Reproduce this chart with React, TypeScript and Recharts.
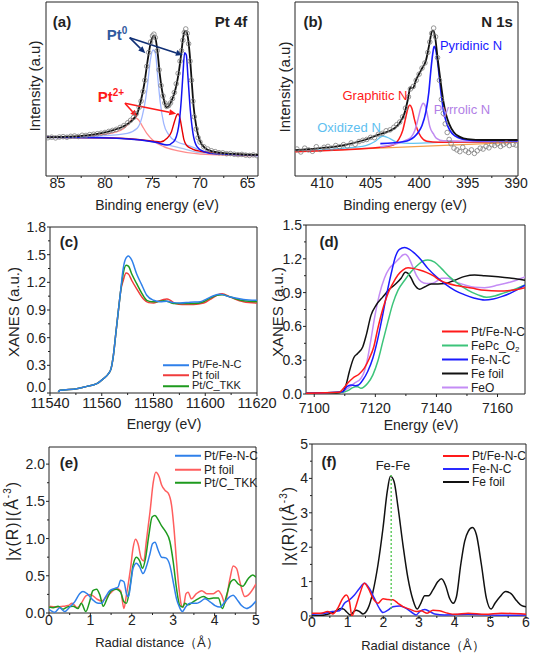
import React from 'react'
import { LineChart, Line, XAxis, YAxis, ReferenceArea, ReferenceLine } from 'recharts'

const W = 538
const H = 660
const FONT = '"Liberation Sans", Arial, Helvetica, sans-serif'
const INK = '#222'
const XH = 30
const YW = 40

// ---------- (a) Pt 4f XPS ----------
const aTicks = [65, 67.5, 70, 72.5, 75, 77.5, 80, 82.5, 85]
const aMajor = [65, 70, 75, 80, 85]
const aPoints = [
  [86.0, 22.0], [85.6, 22.3], [85.2, 21.9], [84.8, 22.4], [84.4, 22.6], [84.0, 22.3], [83.6, 22.8], [83.2, 23.0],
  [82.8, 22.7], [82.4, 23.4], [82.0, 23.3], [81.6, 23.8], [81.2, 24.0], [80.8, 24.3], [80.4, 24.6], [80.0, 25.0],
  [79.6, 25.6], [79.2, 26.2], [78.8, 26.8], [78.4, 27.9], [78.0, 29.0], [77.6, 30.6], [77.3, 32.0], [77.0, 33.6],
  [76.7, 35.8], [76.4, 39.5], [76.2, 43.0], [76.0, 48.5], [75.8, 55], [75.6, 63], [75.4, 71], [75.2, 77],
  [75.0, 80.5], [74.85, 81.5], [74.7, 79.5], [74.5, 72], [74.3, 61], [74.1, 52], [73.9, 46], [73.7, 42],
  [73.5, 40], [73.3, 40.5], [73.1, 42], [72.9, 44.5], [72.7, 48], [72.5, 53], [72.3, 59], [72.1, 66],
  [71.95, 72], [71.8, 78], [71.65, 82.5], [71.5, 84.5], [71.35, 82], [71.2, 76], [71.05, 66], [70.9, 55],
  [70.75, 43], [70.6, 34], [70.4, 27], [70.2, 22], [70.0, 19.5], [69.6, 16.8], [69.2, 15.5], [68.8, 14.5],
  [68.4, 14.0], [68.0, 13.4], [67.6, 13.3], [67.2, 12.8], [66.8, 12.9], [66.4, 12.5], [66.0, 12.3], [65.6, 12.4],
  [65.2, 12.0], [64.8, 11.8], [64.4, 12.1], [64.0, 11.7],
]
const aFit = [
  [86.1, 22.2], [84.0, 22.6], [81.9, 23.4], [80.5, 24.5], [79.1, 26.4], [78.0, 28.7], [77.1, 32.2], [76.6, 36.0],
  [76.2, 43.7], [75.85, 53.3], [75.5, 66.7], [75.2, 76.2], [75.0, 79.7], [74.83, 80.5], [74.66, 78.5], [74.45, 70.5],
  [74.24, 59], [74.0, 49.4], [73.75, 42.7], [73.54, 39.5], [73.3, 40.2], [72.95, 43.7], [72.6, 49.4], [72.25, 59],
  [71.97, 70.5], [71.76, 80], [71.6, 83.2], [71.45, 83.3], [71.27, 79.5], [71.09, 70.5], [70.88, 55], [70.67, 39.8],
  [70.39, 28.4], [70.05, 20.7], [69.45, 15.9], [68.58, 14], [67.18, 13], [65.78, 12.5], [63.9, 12.1],
]
const aPt0a = [
  [86.1, 22.2], [80.46, 23.0], [77.66, 24.5], [76.61, 27.4], [76.09, 34.1], [75.74, 43.7], [75.5, 53.3], [75.22, 66.7],
  [74.94, 72.4], [74.69, 70.5], [74.45, 57.1], [74.17, 41.8], [73.82, 30.3], [73.29, 23.6], [72.42, 19.7], [71.37, 17.8],
  [69.97, 14.9], [68.23, 13.0], [63.9, 11.5],
]
const aPt0b = [
  [86.1, 22.2], [80.46, 22.0], [76.26, 20.7], [74.52, 19.2], [73.47, 17.8], [72.77, 19.7], [72.25, 28.4], [71.97, 43.7],
  [71.79, 59.0], [71.62, 70.9], [71.44, 69.5], [71.27, 57.1], [71.02, 37.9], [70.74, 24.5], [70.32, 16.9], [69.62, 14.0],
  [68.23, 12.6], [63.9, 12.1],
]
const aPt2a = [
  [86.1, 22.2], [80.46, 23.6], [78.36, 26.2], [77.6, 29.5], [77.2, 32.5], [76.9, 33.6], [76.5, 32.5], [76.1, 29],
  [75.6, 24.5], [74.9, 20.3], [73.82, 16.9], [72.42, 14.6], [69.97, 12.6], [63.9, 11.5],
]
const aPt2b = [
  [86.1, 22.2], [80.46, 22.0], [76.61, 21.0], [74.9, 20.0], [74.17, 19.5], [73.5, 21.5], [73.0, 25.5], [72.7, 31],
  [72.45, 35], [72.3, 35.6], [72.1, 33], [71.9, 27], [71.7, 21], [71.4, 17.5], [70.8, 15.5], [69.97, 14.2],
  [67.5, 12.8], [63.9, 12.1],
]
const aBase = [
  [86.1, 22.0], [77.0, 21.4], [74.5, 19.0], [73.0, 17.3], [71.5, 15.3], [70.0, 13.4], [63.9, 11.6],
]

// ---------- (b) N 1s XPS ----------
const bTicks = [390, 392.5, 395, 397.5, 400, 402.5, 405, 407.5, 410]
const bMajor = [390, 395, 400, 405, 410]
const bPoints = [
  [412.6, 15.5], [412.2, 13.8], [411.8, 16.0], [411.4, 15.0], [411.0, 14.2], [410.6, 16.8], [410.2, 15.2], [409.8, 16.5],
  [409.4, 17.0], [409.0, 16.0], [408.6, 17.5], [408.2, 16.8], [407.8, 18.0], [407.4, 17.2], [407.0, 19.0], [406.6, 18.2],
  [406.2, 19.8], [405.8, 20.5], [405.4, 21.0], [405.0, 22.2], [404.6, 22.0], [404.2, 24.0], [403.8, 24.5], [403.4, 26.0],
  [403.0, 26.5], [402.6, 28.0], [402.3, 29.5], [402.0, 31.0], [401.7, 34.0], [401.4, 39.0], [401.1, 45.5], [400.9, 50.0],
  [400.6, 51.5], [400.3, 55.0], [400.0, 58.5], [399.7, 62.0], [399.4, 65.0], [399.1, 71.0], [398.9, 77.0], [398.7, 82.0],
  [398.5, 85.0], [398.3, 80.0], [398.1, 68.0], [397.9, 55.0], [397.7, 44.0], [397.5, 36.0], [397.3, 30.0], [397.1, 25.0],
  [396.9, 21.0], [396.7, 18.5], [396.4, 16.0], [396.1, 15.0], [395.8, 14.0], [395.5, 16.5], [395.2, 14.5], [394.9, 13.5],
  [394.6, 15.0], [394.3, 13.0], [394.0, 14.5], [393.7, 16.0], [393.4, 15.5], [393.1, 17.0], [392.8, 16.2], [392.5, 18.0],
  [392.2, 17.5], [391.9, 18.5], [391.6, 17.0], [391.3, 18.0], [391.0, 19.0], [390.7, 17.5], [390.3, 18.2], [390.0, 17.8],
]
const bFit = [
  [412.78, 14.9], [410.45, 15.9], [407.7, 17.8], [405.64, 20.7], [404.26, 23.6], [403.23, 25.5], [402.54, 27.4],
  [402.03, 30.3], [401.51, 36.0], [401.17, 43.7], [400.89, 51.0], [400.65, 50.4], [400.31, 55.2], [399.79, 60.9],
  [399.28, 66.7], [398.93, 76.2], [398.69, 82.9], [398.52, 83.5], [398.35, 80], [398.1, 68], [397.8, 55], [397.5, 43],
  [397.2, 35], [396.9, 30], [396.4, 25], [395.8, 22.5], [395.0, 21.2], [393.3, 20.7], [389.83, 20.7],
]
const bPyridinic = [
  [404.0, 18.6], [401.5, 19.8], [401.0, 20.7], [400.5, 22.5], [400.1, 25], [399.7, 29], [399.3, 37], [399.0, 48],
  [398.8, 60], [398.6, 70], [398.45, 74.5], [398.3, 73], [398.1, 66], [397.9, 56], [397.7, 46], [397.5, 38],
  [397.2, 31], [396.8, 26], [396.3, 23], [395.5, 21.2], [394.5, 20.5], [392.7, 20.3], [389.83, 20.2],
]
const bGraphitic = [
  [412.78, 14], [404.0, 16.5], [402.6, 18], [402.1, 21], [401.7, 26], [401.4, 33], [401.15, 39], [400.96, 40.8],
  [400.75, 39], [400.5, 33], [400.2, 27], [399.8, 22.5], [399.2, 20], [398.0, 19.4], [389.83, 19.8],
]
const bPyrrolic = [
  [404.0, 16.8], [401.3, 20.7], [400.8, 22.5], [400.45, 26], [400.1, 33], [399.8, 39.5], [399.59, 41.8], [399.35, 40],
  [399.1, 34], [398.9, 28.5], [398.5, 24], [398.2, 21.6], [397.5, 20.2], [395.0, 20], [389.83, 20],
]
const bOxidized = [
  [412.78, 14], [408.0, 15.8], [405.5, 17.5], [404.5, 20], [403.75, 23], [403.0, 21.5], [402.2, 19.2], [401.0, 18.8],
  [398.0, 19.3], [389.83, 19.8],
]
const bBase = [[412.78, 14.0], [389.83, 19.4]]

// ---------- (c) Pt L3-edge XANES ----------
const cTicks = [11540, 11550, 11560, 11570, 11580, 11590, 11600, 11610, 11620]
const cMajor = [11540, 11560, 11580, 11600, 11620]
const cYTicks = [0, 0.15, 0.3, 0.45, 0.6, 0.75, 0.9, 1.05, 1.2, 1.35, 1.5, 1.65, 1.8]
const cYMajor = [0, 0.3, 0.6, 0.9, 1.2, 1.5, 1.8]
const cPtFeNC = [
  [11543.2, 0.011], [11543.9, 0.029], [11550.3, 0.047], [11554.2, 0.072], [11558.1, 0.101], [11560.6, 0.155],
  [11562.6, 0.21], [11563.6, 0.264], [11564.5, 0.408], [11565.5, 0.661], [11566.5, 0.914], [11567.4, 1.131],
  [11568.1, 1.31], [11569.0, 1.44], [11570.3, 1.485], [11571.6, 1.44], [11573.5, 1.29], [11575.5, 1.17],
  [11577.4, 1.06], [11580, 1.005], [11582.6, 0.99], [11585.2, 0.995], [11587.7, 0.98], [11590.3, 0.975],
  [11594.2, 0.985], [11598.1, 0.99], [11600.6, 1.02], [11603.2, 1.055], [11605.8, 1.07], [11609.7, 1.04],
  [11614.8, 1.015], [11620, 1.005],
]
const cPtFoil = [
  [11543.2, 0.011], [11543.9, 0.029], [11550.3, 0.047], [11554.2, 0.072], [11558.1, 0.101], [11560.6, 0.155],
  [11562.6, 0.21], [11563.6, 0.264], [11564.5, 0.408], [11565.5, 0.661], [11566.5, 0.91], [11567.4, 1.12],
  [11568.3, 1.22], [11569.4, 1.3], [11570.3, 1.29], [11571.6, 1.22], [11573.5, 1.13], [11576.1, 1.02],
  [11578.1, 0.98], [11580, 0.975], [11581.9, 0.995], [11583.9, 1.015], [11585.2, 1.02], [11586.5, 1.005],
  [11588.4, 0.97], [11591, 0.96], [11595.5, 0.96], [11599.4, 0.975], [11601.9, 1.015], [11604.5, 1.06],
  [11606.5, 1.075], [11609.7, 1.04], [11614.8, 0.99], [11620, 0.975],
]
const cPtCTKK = [
  [11543.2, 0.011], [11543.9, 0.029], [11550.3, 0.047], [11554.2, 0.072], [11558.1, 0.101], [11560.6, 0.155],
  [11562.6, 0.21], [11563.6, 0.264], [11564.5, 0.408], [11565.5, 0.661], [11566.5, 0.912], [11567.4, 1.125],
  [11568.2, 1.28], [11569.4, 1.385], [11570.3, 1.375], [11571.6, 1.29], [11573.5, 1.185], [11575.5, 1.08],
  [11577.4, 1.005], [11579.4, 0.99], [11581.3, 0.99], [11583.9, 1.0], [11585.8, 0.99], [11587.7, 0.97],
  [11590.3, 0.97], [11595.5, 0.97], [11599.4, 0.99], [11601.9, 1.03], [11604.5, 1.06], [11606.5, 1.065],
  [11609.7, 1.04], [11614.8, 1.0], [11620, 0.99],
]

// ---------- (d) Fe K-edge XANES ----------
const dTicks = [7100, 7110, 7120, 7130, 7140, 7150, 7160]
const dMajor = [7100, 7120, 7140, 7160]
const dYTicks = [0, 0.15, 0.3, 0.45, 0.6, 0.75, 0.9, 1.05, 1.2, 1.35, 1.5]
const dYMajor = [0, 0.3, 0.6, 0.9, 1.2, 1.5]
const dPtFeNC = [
  [7097.3, 0.006], [7108.2, 0.015], [7109.6, 0.05], [7110.9, 0.095], [7112.6, 0.14], [7114.8, 0.18], [7116.4, 0.23],
  [7118.1, 0.32], [7119.5, 0.42], [7120.8, 0.58], [7122.4, 0.75], [7124.1, 0.89], [7125.7, 0.98], [7127.4, 1.056],
  [7129, 1.1], [7130.7, 1.12], [7132.3, 1.115], [7134.5, 1.1], [7136.7, 1.08], [7138.9, 1.05], [7141.1, 1.01],
  [7143.8, 0.98], [7147.1, 0.96], [7151.5, 0.94], [7155.8, 0.92], [7160.2, 0.914], [7164.6, 0.92], [7169, 0.944],
]
const dFePc = [
  [7097.3, 0.006], [7109.3, 0.015], [7111, 0.03], [7112.6, 0.056], [7113.4, 0.065], [7114.2, 0.065], [7115.3, 0.05],
  [7116.4, 0.065], [7117.5, 0.095], [7119.2, 0.17], [7120.8, 0.29], [7122.4, 0.46], [7124.1, 0.64], [7125.7, 0.8],
  [7127.4, 0.92], [7129.6, 1.01], [7131.7, 1.086], [7133.9, 1.145], [7135.6, 1.18], [7137.2, 1.19], [7139.4, 1.17],
  [7141.6, 1.115], [7144.3, 1.04], [7147.1, 0.98], [7150.4, 0.92], [7153.6, 0.88], [7156.4, 0.858], [7159.1, 0.87],
  [7162.4, 0.9], [7165.7, 0.93], [7169, 0.967],
]
const dFeNC = [
  [7097.3, 0.006], [7109.3, 0.02], [7110.7, 0.065], [7112, 0.08], [7113.4, 0.074], [7114.5, 0.08], [7115.9, 0.124],
  [7117.5, 0.2], [7119.2, 0.32], [7120.8, 0.49], [7122.4, 0.7], [7123.9, 0.91], [7125.2, 1.07], [7126.6, 1.22],
  [7127.9, 1.284], [7129.6, 1.3], [7131.2, 1.284], [7132.8, 1.25], [7135, 1.19], [7137.2, 1.115], [7140, 1.04],
  [7142.7, 0.98], [7146, 0.92], [7149.3, 0.88], [7152.5, 0.85], [7155.8, 0.834], [7158.6, 0.843], [7161.3, 0.864],
  [7164.6, 0.9], [7169, 0.967],
]
const dFeFoil = [
  [7097.3, 0.006], [7106.6, 0.006], [7109.3, 0.02], [7110.4, 0.08], [7111.5, 0.2], [7112.9, 0.32], [7114.2, 0.36],
  [7115.9, 0.42], [7117, 0.52], [7118.6, 0.7], [7120.3, 0.79], [7122.4, 0.86], [7124.6, 0.93], [7126.8, 0.98],
  [7128.5, 1.03], [7129.8, 1.08], [7130.7, 1.07], [7131.7, 1.03], [7132.8, 0.97], [7134.5, 0.93], [7136.1, 0.95],
  [7138.3, 0.976], [7140.5, 0.976], [7142.7, 0.98], [7146, 1.01], [7149.3, 1.044], [7152.5, 1.056], [7155.8, 1.05],
  [7160.2, 1.04], [7164.6, 1.027], [7169, 1.01],
]
const dFeO = [
  [7097.3, 0.006], [7108.9, 0.015], [7111, 0.05], [7113.1, 0.095], [7115.3, 0.14], [7116.4, 0.2], [7117.5, 0.32],
  [7118.6, 0.49], [7119.9, 0.7], [7121.3, 0.88], [7123, 1.03], [7124.6, 1.115], [7126.3, 1.16], [7127.9, 1.204],
  [7129, 1.234], [7129.8, 1.24], [7130.7, 1.22], [7132, 1.145], [7133.4, 1.056], [7135, 0.997], [7136.7, 0.98],
  [7138.3, 0.98], [7140, 1.0], [7141.6, 1.027], [7143.8, 1.027], [7146, 0.997], [7149.3, 0.967], [7152.5, 0.947],
  [7155.8, 0.944], [7160.2, 0.967], [7164.6, 0.997], [7169, 1.04],
]

// ---------- (e) Pt L3 EXAFS ----------
const eTicks = [0, 0.5, 1, 1.5, 2, 2.5, 3, 3.5, 4, 4.5, 5]
const eMajor = [0, 1, 2, 3, 4, 5]
const eYTicks = [0, 0.25, 0.5, 0.75, 1, 1.25, 1.5, 1.75, 2]
const eYMajor = [0, 0.5, 1, 1.5, 2]
const ePtFeNC = [
  [0, 0.05], [0.14, 0.01], [0.26, 0.07], [0.38, 0.02], [0.5, 0.08], [0.62, 0.15], [0.74, 0.26], [0.82, 0.29],
  [0.92, 0.26], [1.05, 0.18], [1.19, 0.13], [1.27, 0.13], [1.37, 0.22], [1.47, 0.3], [1.59, 0.33], [1.67, 0.35],
  [1.73, 0.44], [1.81, 0.42], [1.87, 0.26], [1.92, 0.22], [1.98, 0.42], [2.03, 0.6], [2.11, 0.67], [2.19, 0.62],
  [2.27, 0.53], [2.35, 0.62], [2.44, 0.8], [2.5, 0.93], [2.56, 0.95], [2.64, 0.84], [2.72, 0.75], [2.82, 0.74],
  [2.92, 0.64], [3.0, 0.42], [3.08, 0.19], [3.15, 0.08], [3.22, 0.02], [3.3, 0.08], [3.4, 0.13], [3.56, 0.13],
  [3.65, 0.15], [3.77, 0.19], [3.89, 0.15], [4.01, 0.1], [4.13, 0.08], [4.25, 0.15], [4.37, 0.22], [4.45, 0.24],
  [4.53, 0.19], [4.65, 0.1], [4.77, 0.06], [4.9, 0.1], [5.0, 0.16],
]
const ePtFoil = [
  [0, 0.09], [0.18, 0.08], [0.34, 0.09], [0.46, 0.1], [0.56, 0.13], [0.68, 0.07], [0.78, 0.13], [0.89, 0.23],
  [1.0, 0.25], [1.15, 0.19], [1.27, 0.16], [1.39, 0.22], [1.51, 0.28], [1.63, 0.33], [1.73, 0.3], [1.81, 0.06],
  [1.87, 0.24], [1.97, 0.6], [2.03, 0.87], [2.09, 0.99], [2.15, 0.93], [2.23, 0.73], [2.29, 0.7], [2.35, 0.96],
  [2.44, 1.36], [2.52, 1.76], [2.58, 1.89], [2.66, 1.83], [2.72, 1.72], [2.8, 1.65], [2.88, 1.61], [2.96, 1.45],
  [3.02, 1.13], [3.08, 0.69], [3.15, 0.28], [3.2, 0.1], [3.24, 0.08], [3.31, 0.26], [3.36, 0.28], [3.44, 0.19],
  [3.56, 0.26], [3.69, 0.3], [3.81, 0.26], [3.97, 0.26], [4.09, 0.3], [4.17, 0.24], [4.25, 0.13], [4.37, 0.46],
  [4.45, 0.63], [4.53, 0.6], [4.61, 0.42], [4.73, 0.22], [4.81, 0.24], [5.0, 0.39],
]
const ePtCTKK = [
  [0, 0.08], [0.1, 0.07], [0.22, 0.09], [0.34, 0.05], [0.46, 0.085], [0.58, 0.09], [0.7, 0.06], [0.78, 0.13],
  [0.89, 0.02], [0.97, 0.13], [1.06, 0.3], [1.15, 0.32], [1.23, 0.24], [1.31, 0.09], [1.4, 0.19], [1.51, 0.3],
  [1.63, 0.32], [1.73, 0.28], [1.81, 0.15], [1.87, 0.13], [1.95, 0.33], [2.03, 0.64], [2.11, 0.75], [2.19, 0.7],
  [2.26, 0.6], [2.33, 0.73], [2.41, 1.04], [2.49, 1.29], [2.56, 1.31], [2.64, 1.25], [2.72, 1.17], [2.81, 1.1],
  [2.92, 0.96], [3.0, 0.69], [3.08, 0.33], [3.16, 0.1], [3.23, 0.08], [3.28, 0.13], [3.36, 0.11], [3.48, 0.15],
  [3.6, 0.19], [3.73, 0.22], [3.85, 0.19], [3.97, 0.2], [4.09, 0.2], [4.19, 0.06], [4.29, 0.24], [4.39, 0.42],
  [4.47, 0.45], [4.57, 0.39], [4.68, 0.36], [4.81, 0.46], [4.92, 0.51], [5.0, 0.48],
]

// ---------- (f) Fe K EXAFS ----------
const fTicks = [0, 0.5, 1, 1.5, 2, 2.5, 3, 3.5, 4, 4.5, 5, 5.5, 6]
const fMajor = [0, 1, 2, 3, 4, 5, 6]
const fYTicks = [0, 0.5, 1, 1.5, 2, 2.5, 3, 3.5, 4, 4.5, 5]
const fYMajor = [0, 1, 2, 3, 4, 5]
const fPtFeNC = [
  [0, 0.08], [0.25, 0.08], [0.44, 0.13], [0.58, 0.06], [0.72, 0.22], [0.86, 0.51], [0.96, 0.61], [1.05, 0.42],
  [1.12, 0.0], [1.21, 0.22], [1.33, 0.61], [1.47, 0.95], [1.58, 0.8], [1.71, 0.51], [1.85, 0.37], [1.99, 0.5],
  [2.13, 0.48], [2.27, 0.47], [2.41, 0.37], [2.55, 0.27], [2.74, 0.2], [2.92, 0.13], [3.06, 0.15], [3.23, 0.08],
  [3.39, 0.17], [3.58, 0.15], [3.81, 0.08], [4.0, 0.05], [4.38, 0.08], [4.85, 0.05], [5.31, 0.08], [6.0, 0.05],
]
const fFeNC = [
  [0, 0.05], [0.35, 0.08], [0.58, 0.13], [0.77, 0.15], [0.91, 0.37], [1.05, 0.47], [1.19, 0.61], [1.33, 0.8],
  [1.47, 0.95], [1.61, 0.8], [1.75, 0.51], [1.89, 0.22], [1.99, 0.1], [2.13, 0.17], [2.27, 0.27], [2.46, 0.29],
  [2.64, 0.22], [2.83, 0.08], [2.92, 0.03], [3.02, 0.13], [3.16, 0.19], [3.3, 0.13], [3.44, 0.06], [3.72, 0.03],
  [4.38, 0.05], [5.31, 0.02], [6.0, 0.03],
]
const fFeFoil = [
  [0, 0], [0.35, 0.03], [0.53, 0.08], [0.68, 0.15], [0.8, 0.22], [0.89, 0.2], [0.98, 0.11], [1.08, 0.03],
  [1.17, 0.13], [1.24, 0.17], [1.33, 0.13], [1.43, 0.06], [1.57, 0.22], [1.71, 0.71], [1.85, 1.49], [1.99, 2.55],
  [2.11, 3.62], [2.2, 4.06], [2.3, 3.91], [2.41, 3.18], [2.55, 2.07], [2.69, 1.1], [2.83, 0.47], [2.95, 0.2],
  [3.05, 0.37], [3.16, 0.59], [3.27, 0.59], [3.39, 0.76], [3.53, 1.0], [3.63, 1.08], [3.74, 0.9], [3.86, 0.51],
  [3.96, 0.37], [4.05, 0.56], [4.17, 1.49], [4.28, 2.17], [4.38, 2.46], [4.5, 2.57], [4.61, 2.36], [4.75, 1.49],
  [4.89, 0.51], [5.02, 0.2], [5.13, 0.37], [5.27, 0.56], [5.43, 0.71], [5.58, 0.65], [5.74, 0.44], [5.88, 0.3],
  [6.0, 0.27],
]

const pts = (a: number[][]) => a.map(([x, y]) => ({ x, y }))

type Box = { l: number; t: number; r: number; b: number }

const near = (list: number[], v: number) => list.some((m) => Math.abs(m - v) < 1e-6)

function xTick(major: number[], size: number, gap: number, fmt: (v: number) => string) {
  return (p: any) => {
    const v = p.payload.value
    const isMajor = near(major, v)
    return (
      <g>
        <line x1={p.x} x2={p.x} y1={p.y} y2={p.y + (isMajor ? 3 : 2)} stroke={INK} strokeWidth={1} />
        {isMajor && (
          <text x={p.x} y={p.y + gap} dy="0.71em" textAnchor="middle" fontSize={size} fill={INK} fontFamily={FONT}>
            {fmt(v)}
          </text>
        )}
      </g>
    )
  }
}

function yTick(major: number[], size: number, fmt: (v: number) => string, lift = 0) {
  return (p: any) => {
    const v = p.payload.value
    const isMajor = near(major, v)
    // the lowest label is nudged up a little so it clears the x labels
    const dyShift = v === 0 ? lift : 0
    return (
      <g>
        <line x1={p.x} x2={p.x - (isMajor ? 3 : 2)} y1={p.y} y2={p.y} stroke={INK} strokeWidth={1} />
        {isMajor && (
          <text x={p.x - 4} y={p.y - dyShift} dy="0.36em" textAnchor="end" fontSize={size} fill={INK} fontFamily={FONT}>
            {fmt(v)}
          </text>
        )}
      </g>
    )
  }
}

function arrowShape(color: string) {
  return (p: any) => {
    const { x1, y1, x2, y2 } = p
    const a = Math.atan2(y2 - y1, x2 - x1)
    const L = 7
    const w = 3
    const bx = x2 - L * Math.cos(a)
    const by = y2 - L * Math.sin(a)
    const pointsStr = `${x2},${y2} ${bx + w * Math.sin(a)},${by - w * Math.cos(a)} ${bx - w * Math.sin(a)},${by + w * Math.cos(a)}`
    return (
      <g>
        <line x1={x1} y1={y1} x2={bx} y2={by} stroke={color} strokeWidth={1.6} />
        <polygon points={pointsStr} fill={color} />
      </g>
    )
  }
}

const int = (v: number) => String(v)
const one = (v: number) => v.toFixed(1)

function Panel({ box, yAxis = true, children }: { box: Box; yAxis?: boolean; children: React.ReactNode }) {
  const margin = {
    top: box.t,
    left: box.l - (yAxis ? YW : 0),
    right: W - box.r,
    bottom: H - box.b - XH,
  }
  return (
    <div style={{ position: 'absolute', left: 0, top: 0, width: W, height: H }}>
      <LineChart width={W} height={H} margin={margin}>
        {children}
      </LineChart>
    </div>
  )
}

function Txt({ x, y, size = 14, color = INK, bold, rot, spacing, children }: any) {
  return (
    <div
      style={{
        position: 'absolute', left: x, top: y, whiteSpace: 'nowrap', lineHeight: 1,
        transform: `translate(-50%, -50%)${rot ? ' rotate(-90deg)' : ''}`,
        fontSize: size, color, fontWeight: bold ? 700 : 400, fontFamily: FONT, letterSpacing: spacing,
      }}
    >
      {children}
    </div>
  )
}

function Legend({ x, y, step, size = 12, items }: { x: number; y: number; step: number; size?: number; items: { name: React.ReactNode; color: string }[] }) {
  return (
    <>
      {items.map((it, i) => (
        <div key={i} style={{ position: 'absolute', left: x, top: y + i * step, height: step - 1, display: 'flex', alignItems: 'center', transform: 'translateY(-50%)', fontFamily: FONT, fontSize: size, color: INK, lineHeight: 1, whiteSpace: 'nowrap' }}>
          <div style={{ width: 26, height: 0, borderTop: `2px solid ${it.color}`, marginRight: 3 }} />
          <span style={{ lineHeight: 1 }}>{it.name}</span>
        </div>
      ))}
    </>
  )
}

const frame = (x: number[], y: number[]) => (
  <ReferenceArea x1={x[0]} x2={x[1]} y1={y[0]} y2={y[1]} fill="none" stroke={INK} strokeWidth={1} ifOverflow="visible" />
)

const line = (data: number[][], color: string, width = 1.5) => (
  <Line data={pts(data)} dataKey="y" type="monotone" stroke={color} strokeWidth={width} dot={false} activeDot={false} isAnimationActive={false} />
)

const circles = (data: number[][]) => (
  <Line data={pts(data)} dataKey="y" stroke="none" dot={{ r: 2.3, stroke: '#7d7d7d', strokeWidth: 0.8, fill: 'none' }} activeDot={false} isAnimationActive={false} />
)

const A_BOX = { l: 46, t: 2, r: 258, b: 176 }
const B_BOX = { l: 295, t: 2, r: 518, b: 176 }
const C_BOX = { l: 50, t: 227, r: 257, b: 393 }
const D_BOX = { l: 306, t: 225, r: 525, b: 394 }
const E_BOX = { l: 49, t: 447, r: 256, b: 613 }
const F_BOX = { l: 312, t: 444, r: 526, b: 616 }

export default function App() {
  const aX = [63.9, 86.2]
  const bX = [389.8, 412.8]
  const cX = [11540, 11620]
  const dX = [7097.3, 7169]
  const eX = [0, 5]
  const fX = [0, 6]
  const xs = (dom: number[], ticks: number[], tick: any, reversed = false) => (
    <XAxis type="number" dataKey="x" domain={dom} ticks={ticks} interval={0} allowDataOverflow reversed={reversed}
      height={XH} tickSize={0} tickMargin={0} tickLine={false} axisLine={false} tick={tick} />
  )
  const ys = (dom: number[], ticks?: number[], tick?: any) =>
    ticks ? (
      <YAxis type="number" domain={dom} ticks={ticks} interval={0} allowDataOverflow width={YW}
        tickSize={0} tickMargin={0} tickLine={false} axisLine={false} tick={tick} />
    ) : (
      <YAxis type="number" domain={dom} allowDataOverflow hide />
    )

  return (
    <div style={{ position: 'absolute', left: 0, top: 0, width: W, height: H, background: '#fff', overflow: 'hidden' }}>
      {/* (a) */}
      <Panel box={A_BOX} yAxis={false}>
        {xs(aX, aTicks, xTick(aMajor, 14, 2, int), true)}
        {ys([0, 100])}
        {frame(aX, [0, 100])}
        {line(aBase, '#a9c3f2', 1.2)}
        {line(aPt2a, '#ff8c8c', 1.3)}
        {line(aPt0a, '#9fb6ff', 1.3)}
        {line(aPt2b, '#e60000', 1.4)}
        {line(aPt0b, '#1414f0', 1.5)}
        {circles(aPoints)}
        {line(aFit, '#111', 1.8)}
        <ReferenceLine segment={[{ x: 77.4, y: 79.5 }, { x: 75.75, y: 70.5 }]} shape={arrowShape('#0f2f75')} ifOverflow="visible" />
        <ReferenceLine segment={[{ x: 77.4, y: 79.5 }, { x: 71.8, y: 69.5 }]} shape={arrowShape('#0f2f75')} ifOverflow="visible" />
        <ReferenceLine segment={[{ x: 77.9, y: 41.8 }, { x: 76.6, y: 34 }]} shape={arrowShape('#ff1a1a')} ifOverflow="visible" />
        <ReferenceLine segment={[{ x: 77.9, y: 41.8 }, { x: 72.5, y: 35.8 }]} shape={arrowShape('#ff1a1a')} ifOverflow="visible" />
      </Panel>

      {/* (b) */}
      <Panel box={B_BOX} yAxis={false}>
        {xs(bX, bTicks, xTick(bMajor, 14, 2, int), true)}
        {ys([0, 100])}
        {frame(bX, [0, 100])}
        {line(bBase, '#f2a04a', 1.2)}
        {line(bOxidized, '#63c6f2', 1.3)}
        {line(bGraphitic, '#ff1a1a', 1.5)}
        {line(bPyrrolic, '#c08af0', 1.5)}
        {line(bPyridinic, '#1a1aff', 1.6)}
        {circles(bPoints)}
        {line(bFit, '#111', 1.8)}
      </Panel>

      {/* (c) */}
      <Panel box={C_BOX}>
        {xs(cX, cTicks, xTick(cMajor, 14.5, 5, int))}
        {ys([0, 1.8], cYTicks, yTick(cYMajor, 14, one, 6))}
        {frame(cX, [0, 1.8])}
        {line(cPtFoil, '#f03c3c')}
        {line(cPtCTKK, '#1e9a1e')}
        {line(cPtFeNC, '#2f80ea')}
      </Panel>

      {/* (d) */}
      <Panel box={D_BOX}>
        {xs(dX, dTicks, xTick(dMajor, 14, 9, int))}
        {ys([0, 1.5], dYTicks, yTick(dYMajor, 14, one))}
        {frame(dX, [0, 1.5])}
        {line(dFeO, '#c48cf5')}
        {line(dFeFoil, '#111')}
        {line(dFePc, '#3cc47a')}
        {line(dFeNC, '#1a1aff')}
        {line(dPtFeNC, '#ff1a1a')}
      </Panel>

      {/* (e) */}
      <Panel box={E_BOX}>
        {xs(eX, eTicks, xTick(eMajor, 14, 2, int))}
        {ys([0, 2.23], eYTicks, yTick(eYMajor, 14, one))}
        {frame(eX, [0, 2.23])}
        {line(ePtFoil, '#ff5e5e')}
        {line(ePtCTKK, '#1e9a1e')}
        {line(ePtFeNC, '#2f80ea')}
      </Panel>

      {/* (f) */}
      <Panel box={F_BOX}>
        {xs(fX, fTicks, xTick(fMajor, 14, 1.5, int))}
        {ys([0, 5], fYTicks, yTick(fYMajor, 14, int))}
        {frame(fX, [0, 5])}
        {line(fFeFoil, '#111')}
        {line(fFeNC, '#2a2aff')}
        {line(fPtFeNC, '#ff1a1a')}
        <ReferenceLine segment={[{ x: 2.22, y: 0.2 }, { x: 2.22, y: 4.15 }]} stroke="#4cc44c" strokeWidth={1.3} strokeDasharray="2 2" ifOverflow="visible" />
      </Panel>

      {/* text (a) */}
      <Txt x={62} y={21} size={15} bold>(a)</Txt>
      <Txt x={231} y={21} size={15} bold>Pt 4f</Txt>
      <Txt x={117} y={34} size={15} bold color="#2f5a9e">Pt<sup style={{ fontSize: 10 }}>0</sup></Txt>
      <Txt x={111} y={96} size={15} bold color="#ff1a1a">Pt<sup style={{ fontSize: 10 }}>2+</sup></Txt>
      <Txt x={33.5} y={86} size={15} rot>Intensity (a.u)</Txt>
      <Txt x={157} y={205} size={14}>Binding energy (eV)</Txt>

      {/* text (b) */}
      <Txt x={313} y={21} size={15} bold>(b)</Txt>
      <Txt x={497} y={21} size={15} bold>N 1s</Txt>
      <Txt x={471} y={45} size={13} color="#1a1aff">Pyridinic N</Txt>
      <Txt x={375} y={95} size={13} color="#ff1a1a">Graphitic N</Txt>
      <Txt x={462} y={109} size={13} color="#b27fe6">Pyrrolic N</Txt>
      <Txt x={349} y={127} size={13} color="#5ec0f0">Oxidized N</Txt>
      <Txt x={284} y={87} size={15} rot>Intensity (a.u)</Txt>
      <Txt x={405} y={205} size={14}>Binding energy (eV)</Txt>

      {/* text (c) */}
      <Txt x={69} y={241} size={15} bold>(c)</Txt>
      <Txt x={13} y={312} size={15} rot>XANES (a.u.)</Txt>
      <Txt x={164} y={424} size={14}>Energy (eV)</Txt>
      <Legend x={163} y={365} step={10.5} size={11} items={[
        { name: 'Pt/Fe-N-C', color: '#2f80ea' },
        { name: 'Pt foil', color: '#f03c3c' },
        { name: 'Pt/C_TKK', color: '#1e9a1e' },
      ]} />

      {/* text (d) */}
      <Txt x={329} y={241} size={15} bold>(d)</Txt>
      <Txt x={277} y={312} size={15} rot>XANES (a.u.)</Txt>
      <Txt x={421} y={425} size={14}>Energy (eV)</Txt>
      <Legend x={442} y={331} step={14} size={12} items={[
        { name: 'Pt/Fe-N-C', color: '#ff1a1a' },
        { name: <>FePc_O<sub style={{ fontSize: 8, lineHeight: 0, verticalAlign: '-0.25em' }}>2</sub></>, color: '#3cc47a' },
        { name: 'Fe-N-C', color: '#1a1aff' },
        { name: 'Fe foil', color: '#111' },
        { name: 'FeO', color: '#c48cf5' },
      ]} />

      {/* text (e) */}
      <Txt x={69} y={462} size={15} bold>(e)</Txt>
      <Txt x={12} y={521} size={16} spacing="1px" rot>|χ(R)|(Å<sup style={{ fontSize: 10 }}>-3</sup>)</Txt>
      <Txt x={157} y={642} size={13}>Radial distance（Å）</Txt>
      <Legend x={175} y={456} step={13.5} size={12} items={[
        { name: 'Pt/Fe-N-C', color: '#2f80ea' },
        { name: 'Pt foil', color: '#ff5e5e' },
        { name: 'Pt/C_TKK', color: '#1e9a1e' },
      ]} />

      {/* text (f) */}
      <Txt x={329} y={461} size={15} bold>(f)</Txt>
      <Txt x={393} y={465} size={13}>Fe-Fe</Txt>
      <Txt x={288} y={526} size={16} spacing="1px" rot>|χ(R)|(Å<sup style={{ fontSize: 10 }}>-3</sup>)</Txt>
      <Txt x={423} y={645} size={13}>Radial distance（Å）</Txt>
      <Legend x={443} y={456} step={13} size={12} items={[
        { name: 'Pt/Fe-N-C', color: '#ff1a1a' },
        { name: 'Fe-N-C', color: '#2a2aff' },
        { name: 'Fe foil', color: '#111' },
      ]} />
    </div>
  )
}
